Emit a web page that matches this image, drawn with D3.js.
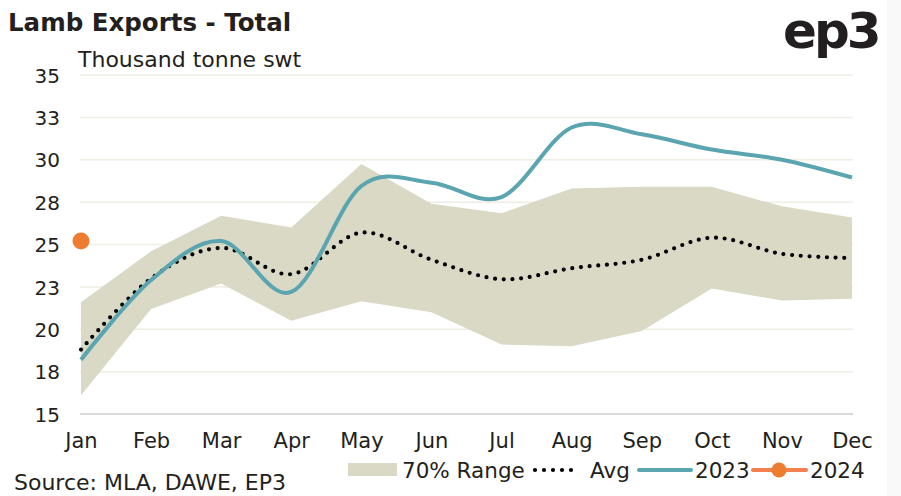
<!DOCTYPE html>
<html>
<head>
<meta charset="utf-8">
<script src="https://cdn.jsdelivr.net/npm/d3@7"></script>
<style>
  html, body { margin: 0; padding: 0; background: #fff; }
  svg { display: block; }
  text { font-family: "DejaVu Sans", sans-serif; fill: #231f20; }
</style>
</head>
<body>
<svg id="chart" width="901" height="496"></svg>
<script>
const months = ["Jan","Feb","Mar","Apr","May","Jun","Jul","Aug","Sep","Oct","Nov","Dec"];
const rangeHigh = [21.6, 24.6, 26.7, 26.0, 29.75, 27.4, 26.85, 28.3, 28.4, 28.4, 27.25, 26.6];
const rangeLow  = [16.1, 21.2, 22.7, 20.5, 21.65, 21.0, 19.1, 19.0, 19.9, 22.4, 21.7, 21.8];
const avg       = [18.8, 23.0, 24.8, 23.25, 25.7, 24.1, 22.95, 23.6, 24.1, 25.4, 24.45, 24.2];
const y2023     = [18.2, 22.9, 25.2, 22.2, 28.45, 28.65, 27.8, 31.9, 31.5, 30.6, 30.0, 28.95];
const y2024     = [25.2];
const yTicks    = [15, 17.5, 20, 22.5, 25, 27.5, 30, 32.5, 35];
const yTickLabels = ["15", "18", "20", "23", "25", "28", "30", "33", "35"];

const FONT = "'DejaVu Sans', sans-serif";
const svg = d3.select("#chart");

// light strip at right edge
svg.append("rect").attr("x", 887).attr("y", 0).attr("width", 14).attr("height", 496).attr("fill", "#f9f9f9");

const x = d3.scalePoint().domain(months).range([81, 852]);
const y = d3.scaleLinear().domain([15, 35]).range([414, 75]);

// gridlines
svg.append("g").selectAll("line").data(yTicks.slice(1)).join("line")
  .attr("x1", 80).attr("x2", 853)
  .attr("y1", d => y(d)).attr("y2", d => y(d))
  .attr("stroke", "#eeeee3").attr("stroke-width", 1.5);

// band
const area = d3.area()
  .x((d, i) => x(months[i]))
  .y0((d, i) => y(rangeLow[i]))
  .y1((d, i) => y(rangeHigh[i]));
svg.append("path").datum(months).attr("d", area).attr("fill", "#d9d9c6");

// baseline
svg.append("line").attr("x1", 80).attr("x2", 853).attr("y1", y(15)).attr("y2", y(15))
  .attr("stroke", "#d9d9d9").attr("stroke-width", 2);

// y axis labels
const yAxis = d3.axisLeft(y).tickValues(yTicks).tickSize(0).tickPadding(0)
  .tickFormat((d, i) => yTickLabels[i]);
const gy = svg.append("g").attr("transform", "translate(60,0)").call(yAxis);
gy.select(".domain").remove();
gy.selectAll("text").style("font-size", "20px").style("font-family", FONT).attr("fill", "#231f20").attr("dy", "0.36em");

// x axis labels
const xAxis = d3.axisBottom(x).tickSize(0).tickPadding(0);
const gx = svg.append("g").attr("transform", "translate(0,433)").call(xAxis);
gx.select(".domain").remove();
gx.selectAll("text").style("font-size", "21px").style("font-family", FONT).attr("fill", "#231f20").attr("dy", "0.71em");

const smooth = d3.curveCardinal.tension(0);
const line = d3.line().x((d, i) => x(months[i])).y(d => y(d)).curve(smooth);

// avg dotted
svg.append("path").datum(avg).attr("d", line).attr("fill", "none")
  .attr("stroke", "#000").attr("stroke-width", 4.2).attr("stroke-linecap", "round")
  .attr("stroke-dasharray", "0 8.7");

// 2023
svg.append("path").datum(y2023).attr("d", line).attr("fill", "none")
  .attr("stroke", "#5aa5b0").attr("stroke-width", 4);

// 2024
svg.selectAll("circle.p24").data(y2024).join("circle").attr("class", "p24")
  .attr("cx", (d, i) => x(months[i])).attr("cy", d => y(d)).attr("r", 8.5).attr("fill", "#ee7d31");

// title etc
svg.append("text").attr("x", 8).attr("y", 31).text("Lamb Exports - Total")
  .style("font-size", "24.5px").style("font-weight", "700");
svg.append("text").attr("x", 78).attr("y", 67).text("Thousand tonne swt")
  .style("font-size", "22px");
svg.append("text").attr("x", 783).attr("y", 48).text("ep3")
  .style("font-size", "50px").style("font-weight", "700").style("letter-spacing", "-3px");
svg.append("text").attr("x", 14).attr("y", 490).text("Source: MLA, DAWE, EP3")
  .style("font-size", "22px");

// legend
const lg = svg.append("g");
const ly = 470;
lg.append("rect").attr("x", 348).attr("y", ly - 7).attr("width", 49).attr("height", 13).attr("fill", "#d9d9c6");
lg.append("text").attr("x", 402).attr("y", ly).attr("dy", "0.36em").text("70% Range").style("font-size", "21.5px");
lg.append("line").attr("x1", 535).attr("x2", 580).attr("y1", ly).attr("y2", ly)
  .attr("stroke", "#000").attr("stroke-width", 4.2).attr("stroke-linecap", "round").attr("stroke-dasharray", "0 9");
lg.append("text").attr("x", 590).attr("y", ly).attr("dy", "0.36em").text("Avg").style("font-size", "21.5px");
lg.append("line").attr("x1", 639).attr("x2", 691).attr("y1", ly).attr("y2", ly)
  .attr("stroke", "#5aa5b0").attr("stroke-width", 4).attr("stroke-linecap", "round");
lg.append("text").attr("x", 695).attr("y", ly).attr("dy", "0.36em").text("2023").style("font-size", "21.5px");
lg.append("line").attr("x1", 753).attr("x2", 806).attr("y1", ly).attr("y2", ly)
  .attr("stroke", "#f47f4f").attr("stroke-width", 4).attr("stroke-linecap", "round");
lg.append("circle").attr("cx", 779).attr("cy", ly).attr("r", 7.5).attr("fill", "#ee7d31");
lg.append("text").attr("x", 810).attr("y", ly).attr("dy", "0.36em").text("2024").style("font-size", "21.5px");
</script>
</body>
</html>
